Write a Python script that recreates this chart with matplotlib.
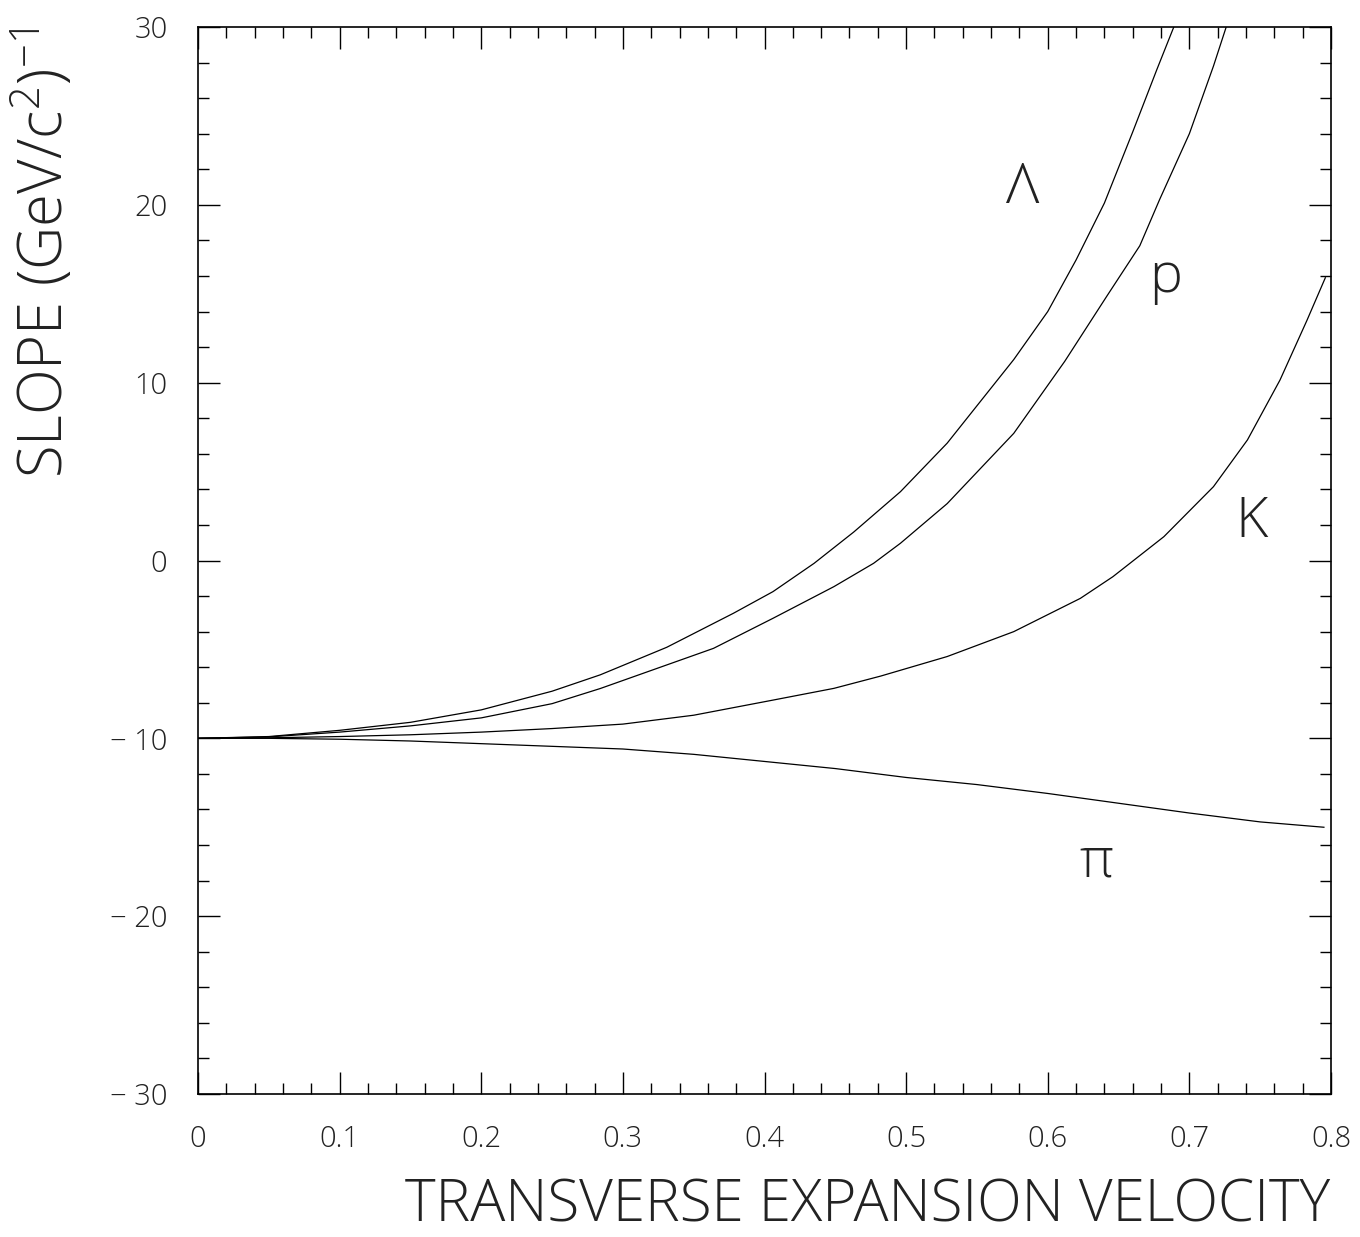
import matplotlib
matplotlib.use("Agg")
import matplotlib.pyplot as plt
from matplotlib.ticker import MultipleLocator, FuncFormatter

plt.rcParams['font.family'] = ['Open Sans', 'Lato', 'DejaVu Sans']
plt.rcParams['font.weight'] = 'light'
plt.rcParams['mathtext.default'] = 'regular'

# curves
x_lam = [0, 0.05, 0.1, 0.15, 0.2, 0.25, 0.284, 0.331, 0.378, 0.406, 0.435, 0.463, 0.496,
         0.529, 0.552, 0.576, 0.6, 0.62, 0.64, 0.66, 0.677, 0.689]
y_lam = [-10, -9.9, -9.55, -9.1, -8.4, -7.35, -6.43, -4.88, -2.97, -1.75, -0.16, 1.6, 3.87,
         6.6, 8.9, 11.3, 14.0, 16.9, 20.1, 24.1, 27.6, 30]

x_p = [0, 0.05, 0.1, 0.15, 0.2, 0.25, 0.284, 0.364, 0.406, 0.449, 0.477, 0.496, 0.529,
       0.576, 0.612, 0.642, 0.665, 0.679, 0.70, 0.717, 0.726]
y_p = [-10, -9.92, -9.65, -9.3, -8.85, -8.05, -7.2, -4.94, -3.25, -1.47, -0.16, 0.97, 3.2,
       7.15, 11.2, 14.9, 17.7, 20.3, 24.0, 27.8, 30]

x_k = [0, 0.05, 0.1, 0.15, 0.2, 0.25, 0.3, 0.35, 0.406, 0.449, 0.482, 0.529, 0.576,
       0.623, 0.646, 0.682, 0.717, 0.741, 0.764, 0.783, 0.796]
y_k = [-10, -9.97, -9.9, -9.8, -9.65, -9.45, -9.2, -8.7, -7.85, -7.19, -6.5, -5.4, -4.0,
       -2.13, -0.91, 1.34, 4.15, 6.78, 10.15, 13.5, 15.9]

x_pi = [0, 0.05, 0.1, 0.15, 0.2, 0.25, 0.3, 0.35, 0.4, 0.45, 0.5, 0.55, 0.6, 0.65, 0.7, 0.75, 0.795]
y_pi = [-10, -10.0, -10.05, -10.15, -10.3, -10.45, -10.6, -10.9, -11.3, -11.7, -12.2, -12.6,
        -13.1, -13.65, -14.2, -14.7, -15.0]

labels = ["\u039b", "p", "K", "\u03c0"]
label_x = [0.582, 0.683, 0.744, 0.634]
label_y = [20.1, 15.1, 1.3, -17.75]

fig = plt.figure(figsize=(13.6, 12.37), dpi=100)
ax = fig.add_axes([198 / 1360, 1 - 1094 / 1237, 1133 / 1360, 1067 / 1237])

for xs, ys in [(x_lam, y_lam), (x_p, y_p), (x_k, y_k), (x_pi, y_pi)]:
    ax.plot(xs, ys, color="black", lw=0.9)

for txt, lx, ly in zip(labels, label_x, label_y):
    ax.text(lx, ly, txt, fontsize=40, ha="center", va="baseline", color="#222222")

ax.set_xlim(0, 0.8)
ax.set_ylim(-30, 30)
ax.xaxis.set_major_locator(MultipleLocator(0.1))
ax.xaxis.set_minor_locator(MultipleLocator(0.02))
ax.yaxis.set_major_locator(MultipleLocator(10))
ax.yaxis.set_minor_locator(MultipleLocator(2))
ax.xaxis.set_major_formatter(FuncFormatter(lambda v, pos: "0" if abs(v) < 1e-9 else f"{v:.1f}"))
ax.yaxis.set_major_formatter(FuncFormatter(lambda v, pos: f"{v:.0f}".replace("-", "\u2212 ")))
ax.tick_params(which="both", direction="in", top=True, right=True, width=1, labelsize=21,
               pad=22, colors="black", labelcolor="#222222")
ax.tick_params(which="major", length=16)
ax.tick_params(which="minor", length=8)
for s in ax.spines.values():
    s.set_linewidth(1.2)

fig.text(1330 / 1360, 1 - 1222 / 1237, "TRANSVERSE EXPANSION VELOCITY", fontsize=42,
         ha="right", va="baseline", color="#222222")
fig.text(45 / 1360, 1 - 28 / 1237, "SLOPE (GeV/c$^{2}$)$^{-1}$", fontsize=43,
         rotation=90, ha="center", va="top", color="#222222")

fig.savefig("out.png", dpi=100)
